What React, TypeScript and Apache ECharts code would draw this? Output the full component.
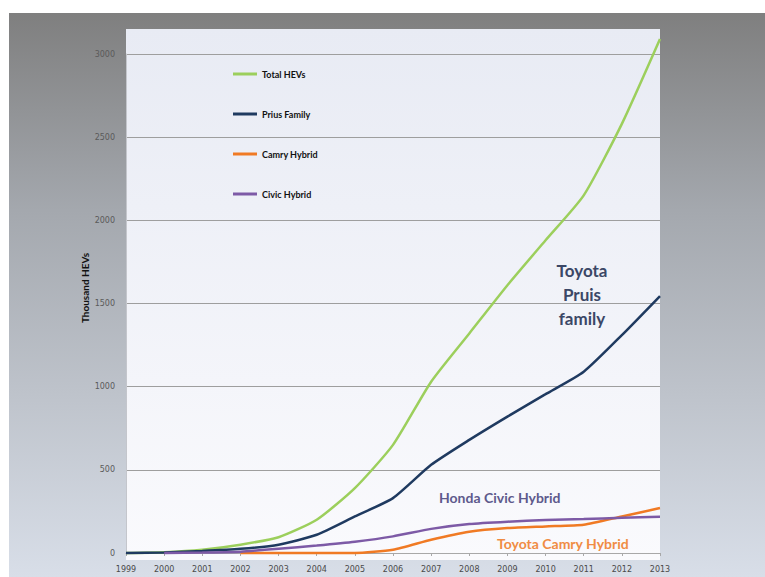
import React, { useEffect, useRef } from "react";
import * as echarts from "echarts";

const years = ["1999", "2000", "2001", "2002", "2003", "2004", "2005", "2006", "2007", "2008", "2009", "2010", "2011", "2012", "2013"];
const totalHEVs = [0, 5, 20, 50, 95, 200, 390, 650, 1030, 1320, 1610, 1880, 2150, 2580, 3090];
const priusFamily = [0, 3, 12, 25, 50, 110, 220, 330, 530, 680, 820, 955, 1090, 1310, 1545];
const camryHybrid = [null, null, null, 0, 0, 0, 0, 20, 80, 128, 150, 160, 170, 220, 270];
const civicHybrid = [null, 0, 3, 8, 25, 45, 68, 100, 145, 174, 188, 198, 204, 212, 218];
const seriesNames = ["Total HEVs", "Prius Family", "Camry Hybrid", "Civic Hybrid"];
const seriesColors = ["#9ccf5c", "#1f3a60", "#f07a24", "#7d5aa6"];
const yAxisName = "Thousand HEVs";

const FONT = "Lato, 'Open Sans', sans-serif";

export default function App() {
  const ref = useRef<HTMLDivElement>(null);
  useEffect(() => {
    if (!ref.current) return;
    const chart = echarts.init(ref.current, undefined, { renderer: "svg" });
    const data = [totalHEVs, priusFamily, camryHybrid, civicHybrid];
    chart.setOption({
      animation: false,
      backgroundColor: "#ffffff",
      textStyle: { fontFamily: FONT },
      graphic: [
        {
          type: "rect",
          z: -10,
          shape: { x: 9, y: 13, width: 756, height: 564 },
          style: {
            fill: new echarts.graphic.LinearGradient(0, 0, 0, 1, [
              { offset: 0, color: "#7f7f7f" },
              { offset: 0.35, color: "#a4a8ae" },
              { offset: 1, color: "#d8dee8" },
            ]),
          },
        },
        {
          type: "rect",
          z: -9,
          shape: { x: 126, y: 29, width: 534, height: 531 },
          style: {
            fill: new echarts.graphic.LinearGradient(0, 0, 0, 1, [
              { offset: 0, color: "#e8ebf4" },
              { offset: 1, color: "#fafafd" },
            ]),
          },
        },
        {
          type: "text",
          z: 100,
          x: 85,
          y: 288,
          rotation: Math.PI / 2,
          style: { text: yAxisName, fill: "#111", font: `bold 10px ${FONT}`, align: "center", verticalAlign: "middle" },
        },
        {
          type: "text",
          z: 100,
          x: 582,
          y: 270,
          style: { text: "Toyota", fill: "#3b4766", font: `bold 17px ${FONT}`, align: "center", verticalAlign: "middle" },
        },
        {
          type: "text",
          z: 100,
          x: 582,
          y: 294,
          style: { text: "Pruis", fill: "#3b4766", font: `bold 17px ${FONT}`, align: "center", verticalAlign: "middle" },
        },
        {
          type: "text",
          z: 100,
          x: 582,
          y: 318,
          style: { text: "family", fill: "#3b4766", font: `bold 17px ${FONT}`, align: "center", verticalAlign: "middle" },
        },
        {
          type: "text",
          z: 100,
          x: 439,
          y: 497,
          style: { text: "Honda Civic Hybrid", fill: "#5e5a8c", font: `bold 14px ${FONT}`, align: "left", verticalAlign: "middle" },
        },
        {
          type: "text",
          z: 100,
          x: 497,
          y: 543,
          style: { text: "Toyota Camry Hybrid", fill: "#f08c44", font: `bold 14px ${FONT}`, align: "left", verticalAlign: "middle" },
        },
      ],
      legend: {
        orient: "vertical",
        left: 228,
        top: 64,
        itemGap: 30,
        itemWidth: 24,
        itemHeight: 3,
        icon: "rect",
        data: seriesNames,
        textStyle: { fontSize: 9, fontWeight: "bold", color: "#111", fontFamily: FONT, lineHeight: 10 },
      },
      grid: { left: 126, right: 105, top: 54, bottom: 24, containLabel: false },
      xAxis: {
        type: "category",
        data: years,
        boundaryGap: false,
        axisLine: { show: true, lineStyle: { color: "#a8a8a8", width: 1 } },
        axisTick: { show: true, length: 3, lineStyle: { color: "#a8a8a8" } },
        axisLabel: { fontSize: 8, color: "#4a4a4a", margin: 12, fontFamily: "'DejaVu Sans', sans-serif" },
      },
      yAxis: {
        type: "value",
        min: 0,
        max: 3000,
        interval: 500,
        axisLine: { show: true, lineStyle: { color: "#c4c6cc", width: 1 } },
        axisTick: { show: false },
        axisLabel: {
          fontSize: 8,
          color: "#5a5a5a",
          margin: 11,
          fontFamily: "'DejaVu Sans', sans-serif",
          formatter: (v: number) => String(v),
        },
        splitLine: { show: true, lineStyle: { color: "#9e9e9e", width: 1.2 } },
      },
      series: seriesNames.map((name, i) => ({
        name,
        type: "line",
        data: data[i],
        symbol: "none",
        smooth: 0.2,
        clip: false,
        connectNulls: false,
        color: seriesColors[i],
        lineStyle: { color: seriesColors[i], width: 2.5 },
        z: 3 + i,
      })),
    });
    return () => chart.dispose();
  }, []);
  return <div ref={ref} style={{ position: "fixed", left: 0, top: 0, width: 765, height: 577 }} />;
}
